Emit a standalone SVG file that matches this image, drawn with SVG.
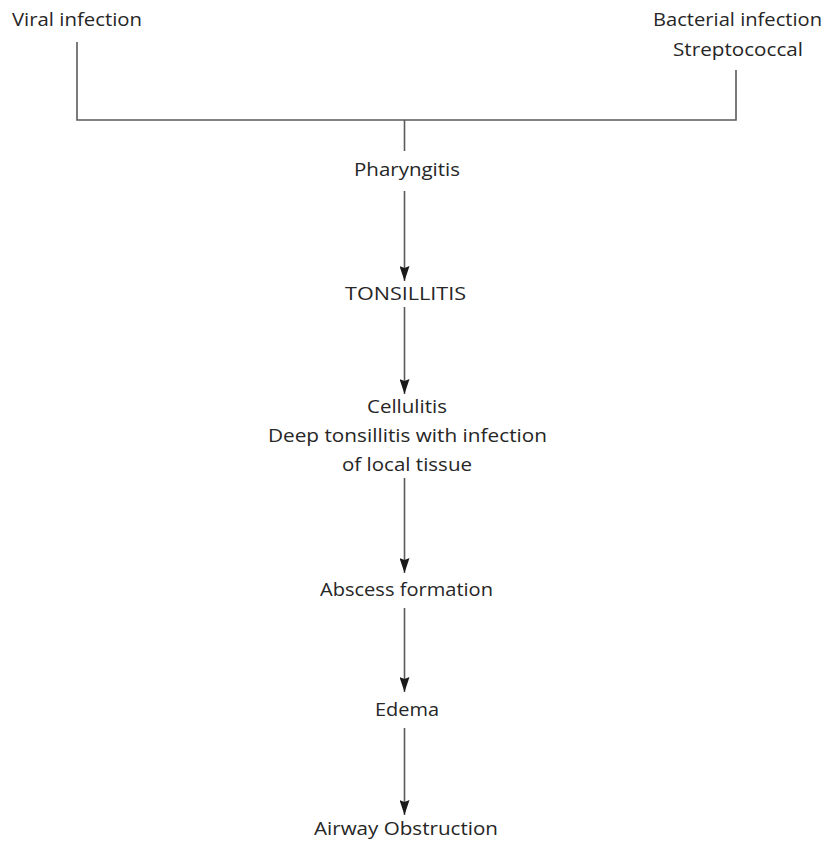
<svg xmlns="http://www.w3.org/2000/svg" width="825" height="847" viewBox="0 0 825 847">
  <style>
    .lbl { font-family: "Open Sans", "Liberation Sans", sans-serif; font-size: 18px; fill: #262626; }
    .mid { text-anchor: middle; }
    .wire { stroke: #5a5a5a; stroke-width: 1.6; fill: none; }
    .flow { stroke: #5a5a5a; stroke-width: 1.6; fill: none; marker-end: url(#arrow); }
  </style>
  <defs>
    <!-- dark notched arrowhead, tip sits on the end of the line -->
    <marker id="arrow" viewBox="0 0 15 10" refX="15" refY="5" markerWidth="15" markerHeight="10" markerUnits="userSpaceOnUse" orient="auto">
      <path d="M0,0 L2,5 L0,10 L15,5 Z" fill="#1a1a1a"/>
    </marker>
  </defs>
  <rect width="825" height="847" fill="#ffffff"/>

  <g id="connectors">
    <!-- converging bracket from the two causes -->
    <polyline class="wire" points="77,42 77,120 736,120 736,70"/>
    <line class="wire" x1="404.5" y1="120" x2="404.5" y2="151"/>
    <!-- downward chain -->
    <line class="flow" x1="404.5" y1="191" x2="404.5" y2="281"/>
    <line class="flow" x1="404.5" y1="307" x2="404.5" y2="394"/>
    <line class="flow" x1="404.5" y1="478" x2="404.5" y2="573"/>
    <line class="flow" x1="404.5" y1="608" x2="404.5" y2="692"/>
    <line class="flow" x1="404.5" y1="728" x2="404.5" y2="815"/>
  </g>

  <g id="viral">
    <text class="lbl" x="12" y="26" textLength="130" lengthAdjust="spacingAndGlyphs">Viral infection</text>
  </g>
  <g id="bacterial">
    <text class="lbl mid" x="737.5" y="26" textLength="169" lengthAdjust="spacingAndGlyphs">Bacterial infection</text>
    <text class="lbl mid" x="738" y="56" textLength="130" lengthAdjust="spacingAndGlyphs">Streptococcal</text>
  </g>
  <g id="pharyngitis">
    <text class="lbl mid" x="407" y="176" textLength="106" lengthAdjust="spacingAndGlyphs">Pharyngitis</text>
  </g>
  <g id="tonsillitis">
    <text class="lbl mid" x="405.5" y="300" textLength="121" lengthAdjust="spacingAndGlyphs">TONSILLITIS</text>
  </g>
  <g id="cellulitis">
    <text class="lbl mid" x="407" y="413" textLength="80" lengthAdjust="spacingAndGlyphs">Cellulitis</text>
    <text class="lbl mid" x="407.5" y="442" textLength="279" lengthAdjust="spacingAndGlyphs">Deep tonsillitis with infection</text>
    <text class="lbl mid" x="407" y="471" textLength="130" lengthAdjust="spacingAndGlyphs">of local tissue</text>
  </g>
  <g id="abscess">
    <text class="lbl mid" x="406.5" y="596" textLength="173" lengthAdjust="spacingAndGlyphs">Abscess formation</text>
  </g>
  <g id="edema">
    <text class="lbl mid" x="407" y="716" textLength="64" lengthAdjust="spacingAndGlyphs">Edema</text>
  </g>
  <g id="airway">
    <text class="lbl mid" x="406" y="835" textLength="184" lengthAdjust="spacingAndGlyphs">Airway Obstruction</text>
  </g>
</svg>
